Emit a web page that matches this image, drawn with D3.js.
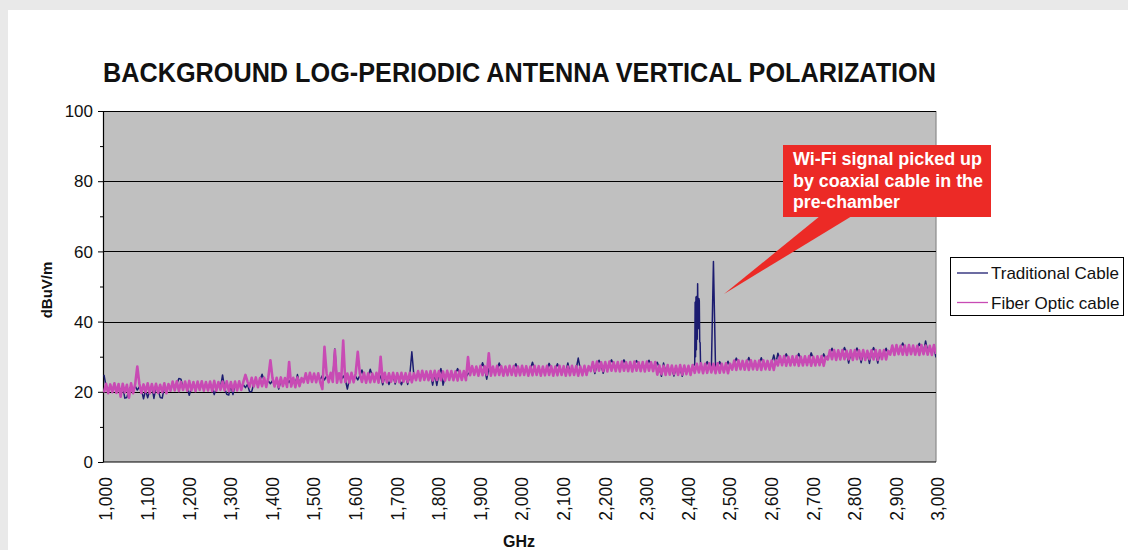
<!DOCTYPE html>
<html><head><meta charset="utf-8">
<script src="https://cdn.jsdelivr.net/npm/d3@7"></script>
<style>html,body{margin:0;padding:0;background:#fff;} svg{display:block}</style>
</head><body><svg id="c" width="1128" height="550"></svg>
<script>
// ---- data ----
const freqs = d3.range(1000, 3001, 5); // MHz sweep grid (categories)
const xTickValues = [1000,1100,1200,1300,1400,1500,1600,1700,1800,1900,2000,2100,2200,2300,2400,2500,2600,2700,2800,2900,3000];
const xTickLabels = ["1,000","1,100","1,200","1,300","1,400","1,500","1,600","1,700","1,800","1,900","2,000","2,100","2,200","2,300","2,400","2,500","2,600","2,700","2,800","2,900","3,000"];
const yTickValues = [0,20,40,60,80,100];
const seriesNames = ["Traditional Cable","Fiber Optic cable"];

const fiberValues = [
 // 1000-1155
 19.8,22.3,19.6,22.1,19.9,22.4,19.7,22.2,18.6,22.3,19.8,22.0,18.3,22.4,19.6,22.2,27.2,22.3,19.7,22.1,19.9,22.4,19.6,22.2,19.8,22.3,19.7,22.0,19.9,22.4,19.6,22.2,
 // 1160-1345
 20.3,22.9,20.4,23.0,20.2,22.8,20.5,22.9,20.3,23.1,20.4,22.8,20.2,22.9,20.5,23.0,20.3,22.8,20.4,22.9,
 20.2,23.1,20.3,22.8,20.5,22.9,20.4,23.0,20.2,22.8,20.3,22.9,20.4,23.0,20.5,22.8,24.8,22.9,
 // 1350-1475
 21.4,24.0,21.5,24.1,21.3,23.9,21.6,24.0,21.4,24.1,29.0,23.9,21.5,24.0,21.3,24.1,21.6,23.9,21.4,28.5,21.5,24.0,21.3,24.1,21.6,23.9,
 // 1480-1665
 22.7,25.3,22.6,25.4,22.8,25.2,22.7,25.3,22.6,20.8,32.8,25.3,22.7,25.4,22.8,31.9,22.6,25.3,22.7,34.6,
 22.8,25.2,22.6,25.4,22.7,25.3,31.4,25.2,22.8,25.4,22.6,25.3,22.7,25.2,22.8,25.4,22.6,30.0,
 // 1670-1745
 22.8,25.4,22.7,25.3,22.9,25.4,22.8,25.3,22.7,25.4,22.9,25.3,22.8,25.4,22.7,25.3,
 // 1750-1875
 23.3,25.9,23.2,26.0,23.4,25.8,23.3,25.9,23.2,26.0,23.4,25.9,23.3,25.8,23.2,26.0,23.4,25.9,23.3,25.8,23.2,26.0,23.4,25.9,23.3,29.9,
 // 1880-2165
 24.7,27.3,24.8,27.2,24.6,27.4,24.7,27.3,24.8,31.0,24.6,27.2,24.7,27.4,24.8,27.3,24.6,27.2,24.7,27.4,
 24.8,27.3,24.6,27.2,24.7,27.4,24.8,27.3,24.6,27.2,24.7,27.4,24.8,27.3,24.6,27.2,24.7,27.4,24.8,27.3,
 24.6,27.2,24.7,27.4,24.8,27.3,24.6,27.2,24.7,27.4,24.8,27.3,24.6,27.2,24.7,27.4,24.8,27.3,
 // 2170-2325
 25.9,28.5,25.8,28.6,26.0,28.4,25.9,28.5,25.8,28.6,26.0,28.4,25.9,28.5,25.8,28.6,26.0,28.4,25.9,28.5,
 25.8,28.6,26.0,28.4,25.9,28.5,25.8,28.6,26.0,28.4,25.9,28.5,
 // 2330-2415
 24.9,27.5,25.0,27.4,24.8,27.6,24.9,27.5,25.0,27.4,24.8,27.6,24.9,27.5,25.0,27.4,24.8,27.6,
 // 2420-2505
 25.4,28.0,25.5,28.1,25.3,28.0,25.4,28.1,25.5,28.0,25.3,28.1,25.4,28.0,25.5,28.1,25.3,28.0,
 // 2510-2615
 26.3,28.9,26.2,29.0,26.4,28.8,26.3,28.9,26.2,29.0,26.4,28.8,26.3,28.9,26.2,29.0,26.4,28.8,26.3,28.9,26.2,29.0,
 // 2620-2735
 27.5,30.1,27.6,30.2,27.4,30.0,27.5,30.1,27.6,30.2,27.4,30.0,27.5,30.1,27.6,30.2,27.4,30.0,27.5,30.1,27.6,30.2,27.4,30.0,
 // 2740-2885
 29.2,31.8,29.3,31.9,29.1,31.8,29.2,31.9,29.3,31.7,29.2,31.8,29.1,31.9,29.3,31.8,29.2,31.9,29.1,31.7,
 29.3,31.8,29.2,31.9,29.1,31.8,29.3,31.9,29.2,31.7,
 // 2890-3000
 30.6,33.2,30.5,33.3,30.7,33.1,30.6,33.2,30.5,33.3,30.7,33.2,30.6,33.1,30.5,33.3,30.7,33.2,30.6,33.1,30.5,33.3,30.8
];

const tradValues = [
 // 1000-1155
 24.8,21.5,20.5,21.6,20.4,21.4,20.6,21.5,20.5,21.6,18.2,18.4,20.6,21.5,20.4,21.6,20.5,21.4,20.6,18.0,
 20.5,18.3,20.4,21.6,18.1,21.5,20.6,18.4,18.2,21.4,20.5,21.6,
 // 1160-1345
 21.1,22.1,21.0,22.2,23.8,23.6,21.1,22.1,21.0,19.0,21.2,22.0,21.1,22.2,21.0,22.1,21.2,22.0,21.1,22.2,
 21.0,19.2,21.1,22.1,21.2,24.8,21.0,19.3,19.1,22.0,19.2,22.1,21.0,22.2,21.1,22.0,21.2,22.1,
 // 1350-1475
 20.0,20.1,22.2,23.2,22.1,23.3,25.0,23.2,22.2,23.1,22.3,23.2,22.1,23.3,20.8,23.2,22.2,23.1,22.3,23.2,22.1,23.3,22.2,24.9,22.3,23.2,
 // 1480-1665
 23.5,24.5,23.4,24.6,23.5,24.4,23.6,24.5,23.5,24.6,23.4,24.5,23.5,24.4,23.6,32.2,23.5,24.6,23.4,24.5,
 23.5,20.8,23.6,24.5,23.5,24.4,23.4,24.6,26.2,24.5,23.5,24.4,26.4,24.5,23.6,24.6,23.5,24.5,
 // 1670-1745
 22.0,24.6,23.6,22.1,23.5,24.7,22.2,24.6,23.6,22.0,23.7,24.5,22.1,24.6,31.4,24.5,
 // 1750-1875
 24.1,25.1,24.0,25.2,24.1,25.0,24.2,25.1,21.9,25.2,21.8,25.1,26.6,21.9,24.1,25.0,24.2,25.1,24.0,25.2,26.6,25.1,24.1,25.0,24.2,25.1,
 // 1880-2165
 25.5,26.5,25.4,26.6,25.5,26.4,28.3,26.5,23.6,26.6,25.5,26.5,25.4,26.4,28.2,26.6,25.5,26.5,25.6,26.4,
 25.5,26.6,28.0,26.5,25.4,26.4,25.5,26.6,25.6,26.5,28.4,26.4,25.5,26.6,25.4,26.5,25.5,26.4,28.1,26.6,
 25.5,26.5,28.0,26.4,25.6,26.5,25.5,28.2,25.4,26.6,25.5,26.5,29.6,26.4,25.5,26.6,25.4,26.5,
 // 2170-2325
 26.7,27.7,25.2,27.8,29.0,27.7,25.3,27.6,26.7,27.8,29.1,27.7,26.6,27.6,26.8,27.7,29.1,27.8,26.7,27.6,
 26.6,27.7,28.9,27.8,26.7,27.6,26.8,27.7,29.0,27.8,26.7,27.6,
 // 2330-2415
 28.4,26.7,24.4,28.2,25.7,26.6,25.8,26.7,24.5,26.8,25.7,26.6,24.4,26.7,25.8,26.6,25.7,26.8,
 // 2420-2505
 28.0,47.2,46.6,27.5,26.2,27.2,28.6,27.1,26.3,57.1,26.8,27.2,28.6,27.1,26.2,27.3,28.7,27.2,
 // 2510-2615
 27.1,28.1,29.6,28.2,27.1,28.0,27.2,28.1,29.8,28.2,27.0,28.1,27.1,28.0,29.7,28.1,27.2,28.2,27.1,28.0,30.5,28.1,
 // 2620-2735
 31.0,29.3,28.3,29.4,30.8,29.3,28.2,29.2,28.3,29.4,30.9,29.3,28.4,29.2,28.3,29.3,31.1,29.4,28.2,29.3,28.3,29.2,30.8,29.3,
 // 2740-2885
 30.0,31.0,32.4,31.1,30.0,30.9,30.1,31.0,32.6,31.1,28.2,30.9,30.0,31.0,32.5,31.1,28.3,30.9,30.1,31.0,
 28.1,31.1,32.6,30.9,28.2,31.0,30.1,31.1,32.4,30.9,
 // 2890-3000
 31.4,32.4,31.5,32.3,31.4,32.5,33.9,32.4,31.3,32.4,31.5,32.3,31.4,32.5,33.8,32.4,31.3,34.5,31.5,32.3,31.4,32.5,29.8
];
// extra sweep points of the traditional cable around the first Wi-Fi carrier
const tradExtraFreqs  = [2421,2422,2423,2424,2426,2427,2428,2429,2431,2432,2433,2434];
const tradExtraValues = [45.5,30.0,47.0,32.0,35.0,50.8,40.0,38.0,46.0,34.2,34.0,28.0];

const calloutLines = ["Wi-Fi signal picked up","by coaxial cable in the","pre-chamber"];

// ---- build ----
const svg = d3.select("#c");
const W = 1128, H = 550;
const x = d3.scaleLinear().domain([1000,3000]).range([104,936]);
const y = d3.scaleLinear().domain([0,100]).range([462,111]);
const plotL = 103, plotR = 936, plotT = y(100), plotB = y(0);

svg.append("rect").attr("width",W).attr("height",H).attr("fill","#e9e9e9");
svg.append("rect").attr("x",8).attr("y",10).attr("width",W-8).attr("height",H-10).attr("fill","#ffffff");

// title
svg.append("text").attr("x",(plotL+plotR)/2).attr("y",82).attr("text-anchor","middle")
  .attr("font-family","'Liberation Sans Narrow','Arial Narrow','Liberation Sans',Arial,sans-serif")
  .attr("font-weight","bold").attr("font-size",27).attr("fill","#111")
  .attr("textLength",plotR-plotL).attr("lengthAdjust","spacingAndGlyphs")
  .text("BACKGROUND LOG-PERIODIC ANTENNA VERTICAL POLARIZATION");

// plot area
svg.append("rect").attr("x",plotL).attr("y",plotT).attr("width",plotR-plotL).attr("height",plotB-plotT).attr("fill","#c0c0c0");
svg.append("line").attr("x1",plotR).attr("x2",plotR).attr("y1",plotT).attr("y2",plotB).attr("stroke","#8a8a8a").attr("stroke-width",1.2);

// gridlines
svg.append("g").selectAll("line").data(yTickValues.filter(d=>d>0)).join("line")
  .attr("x1",plotL).attr("x2",plotR).attr("y1",d=>Math.round(y(d))+0.5).attr("y2",d=>Math.round(y(d))+0.5)
  .attr("stroke","#000").attr("stroke-width",1.2);

// y axis
const yAxis = d3.axisLeft(y).tickValues(d3.range(0,101,10)).tickSize(0).tickFormat("");
const yg = svg.append("g").attr("transform",`translate(${plotL},0)`).call(yAxis);
yg.select(".domain").attr("stroke","#000").attr("stroke-width",1.2);
yg.selectAll(".tick line").attr("x2",d=> d%20===0 ? -5 : -3).attr("stroke","#000");
svg.append("g").selectAll("text").data(yTickValues).join("text")
  .attr("x",93).attr("y",d=>y(d)).attr("dy","0.36em").attr("text-anchor","end")
  .attr("font-family","'Liberation Sans',Arial,sans-serif").attr("font-size",17).attr("fill","#111")
  .text(d=>d);

// x axis
const xAxis = d3.axisBottom(x).tickValues(xTickValues).tickSize(0).tickFormat("");
const xg = svg.append("g").attr("transform",`translate(0,${plotB})`).call(xAxis);
xg.select(".domain").attr("stroke","#000").attr("stroke-width",1.2).attr("d",`M${plotL},0H${plotR}`);
svg.append("g").selectAll("text").data(xTickValues).join("text")
  .attr("transform",(d)=>`translate(${x(d)+2},477) rotate(-90)`)
  .attr("dy","0.36em").attr("text-anchor","end")
  .attr("font-family","'Liberation Sans',Arial,sans-serif").attr("font-size",17.5).attr("fill","#111")
  .text((d,i)=>xTickLabels[i]);

// axis titles
svg.append("text").attr("transform","translate(52,290) rotate(-90)").attr("text-anchor","middle")
  .attr("font-family","'Liberation Sans',Arial,sans-serif").attr("font-weight","bold").attr("font-size",15).attr("fill","#111")
  .text("dBuV/m");
svg.append("text").attr("x",519).attr("y",547).attr("text-anchor","middle")
  .attr("font-family","'Liberation Sans',Arial,sans-serif").attr("font-weight","bold").attr("font-size",16).attr("fill","#111")
  .text("GHz");

// data lines
svg.append("clipPath").attr("id","clip").append("rect").attr("x",plotL).attr("y",plotT).attr("width",plotR-plotL).attr("height",plotB-plotT);
const tradPts = freqs.map((f,i)=>({f, v: tradValues[i]}))
  .concat(tradExtraFreqs.map((f,i)=>({f, v: tradExtraValues[i]})))
  .filter(d=>d.v!==undefined)
  .sort((a,b)=>a.f-b.f);
const fiberPts = freqs.map((f,i)=>({f, v: fiberValues[i]})).filter(d=>d.v!==undefined);
const line = d3.line().x(d=>x(d.f)).y(d=>y(d.v));
const lg = svg.append("g").attr("clip-path","url(#clip)");
lg.append("path").attr("d",line(tradPts)).attr("fill","none").attr("stroke","#1c1c70").attr("stroke-width",1.5).attr("stroke-linejoin","round");
lg.append("path").attr("d",line(fiberPts)).attr("fill","none").attr("stroke","#c84bb4").attr("stroke-width",2.6).attr("stroke-linejoin","round");

// legend
const leg = svg.append("g");
leg.append("rect").attr("x",950.5).attr("y",257.5).attr("width",173).attr("height",58).attr("fill","#fff").attr("stroke","#000").attr("stroke-width",1);
const legColors = ["#1c1c70","#c84bb4"];
seriesNames.forEach((n,i)=>{
  const ly = 273 + i*29.5;
  leg.append("line").attr("x1",957).attr("x2",988).attr("y1",ly).attr("y2",ly).attr("stroke",legColors[i]).attr("stroke-width",1.3);
  leg.append("text").attr("x",991).attr("y",ly+6).attr("font-family","'Liberation Sans',Arial,sans-serif").attr("font-size",17).attr("fill","#111").text(n);
});

// callout
const co = svg.append("g");
co.append("polygon").attr("points","820,216 852,216 724,294").attr("fill","#ec2a26");
co.append("rect").attr("x",783).attr("y",145).attr("width",208).attr("height",72).attr("fill","#ec2a26");
const coLens = [189,190,107];
calloutLines.forEach((t,i)=>{
  co.append("text").attr("x",793).attr("y",165+i*21.5)
    .attr("font-family","'Liberation Sans',Arial,sans-serif").attr("font-weight","bold").attr("font-size",17.5).attr("fill","#fff")
    .attr("textLength",coLens[i]).attr("lengthAdjust","spacingAndGlyphs").text(t);
});
</script></body></html>
